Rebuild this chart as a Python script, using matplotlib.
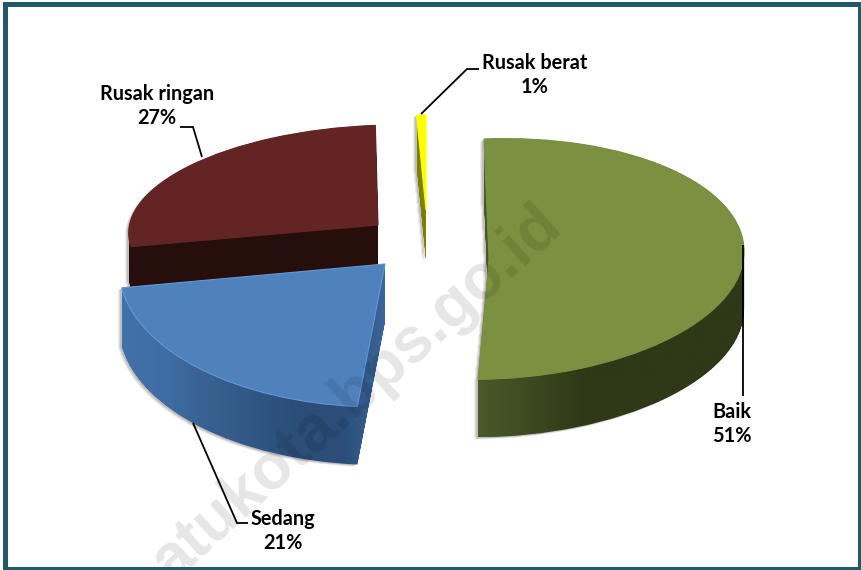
import numpy as np
import matplotlib
matplotlib.use('Agg')
import matplotlib.pyplot as plt
from matplotlib.colors import LinearSegmentedColormap
from matplotlib.patches import PathPatch, Rectangle
from matplotlib.path import Path
from matplotlib.transforms import Affine2D

plt.rcParams['font.family'] = ['Lato', 'DejaVu Sans']

categories = ['Baik', 'Sedang', 'Rusak ringan', 'Rusak berat']
values = [51, 21, 27, 1]

# look of each slice, all in pixels of the picture
apex_x = [489, 385, 378, 426]
apex_y = [259, 264, 225, 210]
radius_x = [255, 266, 249, 150]
radius_y = [120, 143, 100, 95]
shear_x = [-5, 11, 13, 0]
shear_y = [10, -3, 3, 0]
depth = [58, 58, 42, 50]
top_colors = ['#7b9141', '#4f81bd', '#632523', '#ffff00']
edge_colors = ['#7b9141', '#6596d2', '#632523', '#ffff00']
side_colors = [
    ['#4a5a28', '#3c4a20', '#2f3817', '#2f3817', '#2f3817', '#2f3817'],
    ['#4272ab', '#3f6ca2', '#386090', '#315785', '#2b4d78', '#2b4d78', '#3a669a'],
    ['#260e0c', '#260e0c'],
    ['#7f7f00', '#7f7f00'],
]
draw_order = [2, 3, 0, 1]

label_xy = [(732, 424), (283, 531), (157, 106), (535, 75)]
leaders = [
    [(743, 245), (743, 396)],
    [(193, 423), (237, 523), (248, 523)],
    [(202, 157), (193, 127), (180, 127)],
    [(421, 114), (467, 69), (479, 69)],
]

fig = plt.figure(figsize=(8.61, 5.70), dpi=100)
fig.patch.set_facecolor('white')
ax = fig.add_axes([0, 0, 1, 1])

# one pie per slice, because every slice has its own centre and perspective
starts = 90 - 3.6 * np.cumsum([0] + values[:-1])
for order, i in enumerate(draw_order):
    wedges, _ = ax.pie([values[i], 100 - values[i]], startangle=starts[i], counterclock=False,
                       colors=[top_colors[i], 'none'])
    wedges[1].remove()
    wedge = wedges[0]
    base_z = 3 + order * 3

    # unit circle -> pixels, y axis of the picture points down
    to_px = Affine2D.from_values(radius_x[i], -shear_y[i], shear_x[i], -radius_y[i], apex_x[i], apex_y[i])
    top_path = to_px.transform_path(wedge.get_patch_transform().transform_path(wedge.get_path()))
    extruded = Path.make_compound_path(*[top_path.transformed(Affine2D().translate(0, d))
                                         for d in range(depth[i] + 1)])

    # soft shadow
    for off, alpha in zip([3.5, 2.5, 1.5], [0.10, 0.14, 0.18]):
        shadow = extruded.transformed(Affine2D().translate(-off, off * 0.6))
        ax.add_patch(PathPatch(shadow, fc='#555555', ec='none', alpha=alpha, zorder=base_z))

    # side of the slice with a horizontal gradient
    cmap = LinearSegmentedColormap.from_list('side', side_colors[i], N=256)
    bounds = extruded.get_extents()
    grad = np.linspace(0, 1, 256).reshape(1, -1)
    im = ax.imshow(grad, cmap=cmap, aspect='auto', zorder=base_z + 1,
                   extent=[bounds.x0, bounds.x1, bounds.y1, bounds.y0])
    clip = PathPatch(extruded, fc='none', ec='none', transform=ax.transData)
    ax.add_patch(clip)
    im.set_clip_path(clip)

    wedge.set_transform(to_px + ax.transData)
    wedge.set_edgecolor(edge_colors[i])
    wedge.set_linewidth(0.8)
    wedge.set_zorder(base_z + 2)

ax.set_aspect('auto')
ax.set_xlim(0, 861)
ax.set_ylim(570, 0)
ax.axis('off')

# watermark
ax.text(533, 195, 'atukota.bps.go.id', rotation=42, rotation_mode='anchor', ha='right', va='top',
        fontsize=46, fontweight='bold', family='Liberation Sans', color='#000000', alpha=0.10, zorder=30)

for i, path in enumerate(leaders):
    xs, ys = zip(*path)
    ax.plot(xs, ys, color='black', lw=1.3, zorder=40, solid_capstyle='butt', solid_joinstyle='miter')
    ax.text(label_xy[i][0], label_xy[i][1], f'{categories[i]}\n{values[i]}%', ha='center', va='center',
            fontsize=14.3, fontweight='bold', color='black', linespacing=1.3, zorder=41)

# frame of the picture
ax.add_patch(Rectangle((4.5, 3.5), 855, 565, fc='none', ec='#215968', lw=3.6, zorder=50, clip_on=False))

fig.savefig('out.png', dpi=100)
